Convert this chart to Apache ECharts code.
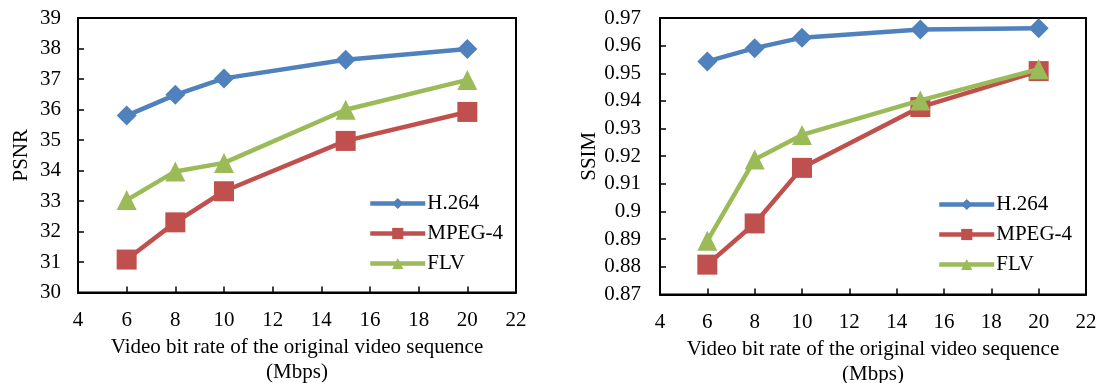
<!DOCTYPE html>
<html>
<head>
<meta charset="utf-8">
<script src="https://cdn.jsdelivr.net/npm/echarts@6/dist/echarts.min.js"></script>
<style>
html,body{margin:0;padding:0;background:#fff;}
#chart{width:1102px;height:383px;}
</style>
</head>
<body>
<div id="chart"></div>
<script>
const bitRates = [6, 8, 10, 15, 20];
const seriesNames = ['H.264', 'MPEG-4', 'FLV'];
const psnrH264 = [35.8, 36.48, 37.02, 37.63, 37.98];
const psnrMPEG4 = [31.08, 32.3, 33.32, 34.97, 35.92];
const psnrFLV = [33.03, 33.97, 34.25, 35.99, 36.97];
const ssimH264 = [0.9543, 0.9591, 0.9629, 0.9658, 0.9663];
const ssimMPEG4 = [0.8808, 0.8957, 0.9158, 0.9378, 0.9508];
const ssimFLV = [0.8894, 0.9188, 0.9277, 0.9402, 0.9515];
const xTitle = 'Video bit rate of the original video sequence\n(Mbps)';

const FONT = "'Liberation Serif', 'Times New Roman', serif";
const FS = 21;
const colors = ['#4F81BD', '#C0504D', '#9BBB59'];
const symbols = ['diamond', 'rect', 'triangle'];

function pairs(vals) { return bitRates.map((x, i) => [x, vals[i]]); }

function xAxis(gridIndex, gap) {
  return {
    type: 'value', gridIndex, min: 4, max: 22, interval: 2,
    name: xTitle, nameLocation: 'middle', nameGap: gap,
    nameTextStyle: { fontFamily: FONT, fontSize: FS, color: '#000', lineHeight: 25 },
    axisLine: { show: true, lineStyle: { color: '#000', width: 2 } },
    axisTick: { show: true, inside: true, length: 6, lineStyle: { color: '#000', width: 1.5 } },
    axisLabel: { fontFamily: FONT, fontSize: FS, color: '#000', margin: 17 },
    splitLine: { show: false }
  };
}
function yAxis(gridIndex, name, min, max, interval, gap, margin, fmt) {
  return {
    type: 'value', gridIndex, min, max, interval,
    name, nameLocation: 'middle', nameGap: gap, nameRotate: 90,
    nameTextStyle: { fontFamily: FONT, fontSize: FS, color: '#000' },
    axisLine: { show: true, lineStyle: { color: '#000', width: 2 } },
    axisTick: { show: true, inside: true, length: 6, lineStyle: { color: '#000', width: 1.5 } },
    axisLabel: { fontFamily: FONT, fontSize: FS, color: '#000', margin, formatter: fmt },
    splitLine: { show: false }
  };
}
function line(name, idx, gridIdx, vals) {
  return {
    type: 'line', name, xAxisIndex: gridIdx, yAxisIndex: gridIdx,
    data: pairs(vals),
    symbol: symbols[idx], symbolSize: 20, showSymbol: true,
    lineStyle: { color: colors[idx], width: 4.5 },
    itemStyle: { color: colors[idx] },
    z: 2 + idx
  };
}
function legend(left, top) {
  return {
    orient: 'vertical', left, top, padding: 0, itemGap: 9,
    itemWidth: 55, itemHeight: 14,
    data: seriesNames,
    lineStyle: { width: 4.5 },
    textStyle: { fontFamily: FONT, fontSize: FS, color: '#000', padding: [0, 0, 0, -3] },
    selectedMode: false
  };
}

const chart = echarts.init(document.getElementById('chart'), null, { renderer: 'canvas' });
chart.setOption({
  animation: false,
  backgroundColor: '#fff',
  grid: [
    { left: 78, top: 18, width: 438, height: 274.5, show: true, borderColor: '#000', borderWidth: 2, containLabel: false, outerBoundsMode: 'none' },
    { left: 660, top: 18, width: 426, height: 276.5, show: true, borderColor: '#000', borderWidth: 2, containLabel: false, outerBoundsMode: 'none' }
  ],
  xAxis: [xAxis(0, 34), xAxis(1, 31)],
  yAxis: [
    yAxis(0, 'PSNR', 30, 39, 1, 46, 17, v => String(v)),
    yAxis(1, 'SSIM', 0.87, 0.97, 0.01, 56, 19, v => String(+v.toFixed(2)))
  ],
  legend: [legend(368, 193), legend(937, 194)],
  series: [
    line('H.264', 0, 0, psnrH264),
    line('MPEG-4', 1, 0, psnrMPEG4),
    line('FLV', 2, 0, psnrFLV),
    line('H.264', 0, 1, ssimH264),
    line('MPEG-4', 1, 1, ssimMPEG4),
    line('FLV', 2, 1, ssimFLV)
  ]
});
</script>
</body>
</html>
